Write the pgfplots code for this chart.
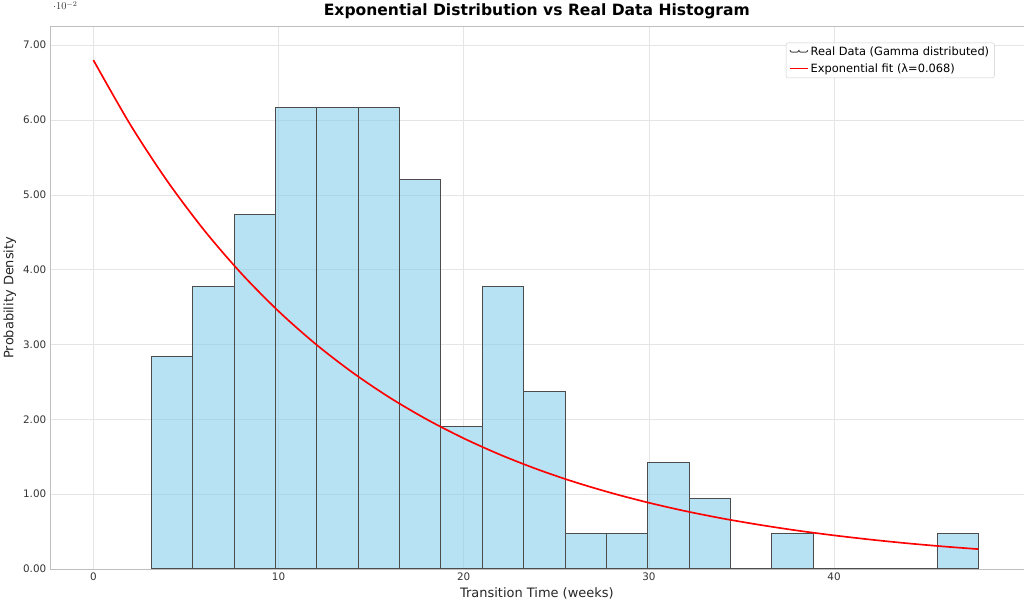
\documentclass[border=0pt]{standalone}
\usepackage{pgfplots}
\pgfplotsset{compat=1.18}
\usepackage{fontspec}
\setmainfont{DejaVu Sans}
\definecolor{barblue}{RGB}{135,206,235}
\begin{document}
\begin{tikzpicture}
\begin{axis}[
  scale only axis, width=939pt, height=523pt,
  xmin=-2.35, xmax=50.25, ymin=0, ymax=0.0725,
  xtick={0,10,20,30,40}, ytick={0,0.01,0.02,0.03,0.04,0.05,0.06,0.07},
  yticklabel style={/pgf/number format/fixed,/pgf/number format/fixed zerofill,/pgf/number format/precision=2},
  /pgf/number format/assume math mode=true,
  tick label style={font=\fontsize{10}{12}\selectfont, text=black!80},
  xlabel={Transition Time (weeks)}, ylabel={Probability Density},
  label style={font=\fontsize{12.5}{14}\selectfont, text=black!85},
  title={\textbf{Exponential Distribution vs Real Data Histogram}},
  title style={font=\fontsize{15}{18}\selectfont, yshift=-2pt},
  grid=major, grid style={black!10},
  axis line style={black!25}, tick style={draw=none},
  legend pos=north east,
  legend style={font=\fontsize{11}{13}\selectfont, draw=black!20, rounded corners=2pt, row sep=2pt},
  legend cell align=left,
]
\addplot[ybar interval, fill=barblue, fill opacity=0.6, draw=black!70, draw opacity=1, line width=0.9pt] coordinates {
(3.14,0.0284)(5.373,0.0378)(7.606,0.0474)(9.839,0.0617)(12.072,0.0617)(14.305,0.0617)
(16.538,0.0521)(18.771,0.0190)(21.004,0.0378)(23.237,0.0237)(25.47,0.0047)(27.703,0.0047)
(29.936,0.0142)(32.169,0.0094)(34.402,0)(36.635,0.0047)(38.868,0)(41.101,0)(43.334,0)(45.567,0.0047)(47.8,0.0047)};
\addlegendentry{Real Data (Gamma distributed)}
\addplot[red, line width=1.6pt, smooth] coordinates {
(0,0.0680)(2,0.05935)(4,0.05180)(6,0.04521)(8,0.03946)(10,0.03444)(12,0.03006)(14,0.02624)
(16,0.02290)(18,0.01999)(20,0.01745)(22,0.01523)(24,0.01329)(26,0.01160)(28,0.01013)(30,0.00884)
(32,0.00771)(34,0.00673)(36,0.00588)(38,0.00513)(40,0.00448)(42,0.00391)(44,0.00341)(46,0.00298)(47.8,0.00264)};
\addlegendentry{Exponential fit (λ=0.068)}
\end{axis}
\end{tikzpicture}
\end{document}
